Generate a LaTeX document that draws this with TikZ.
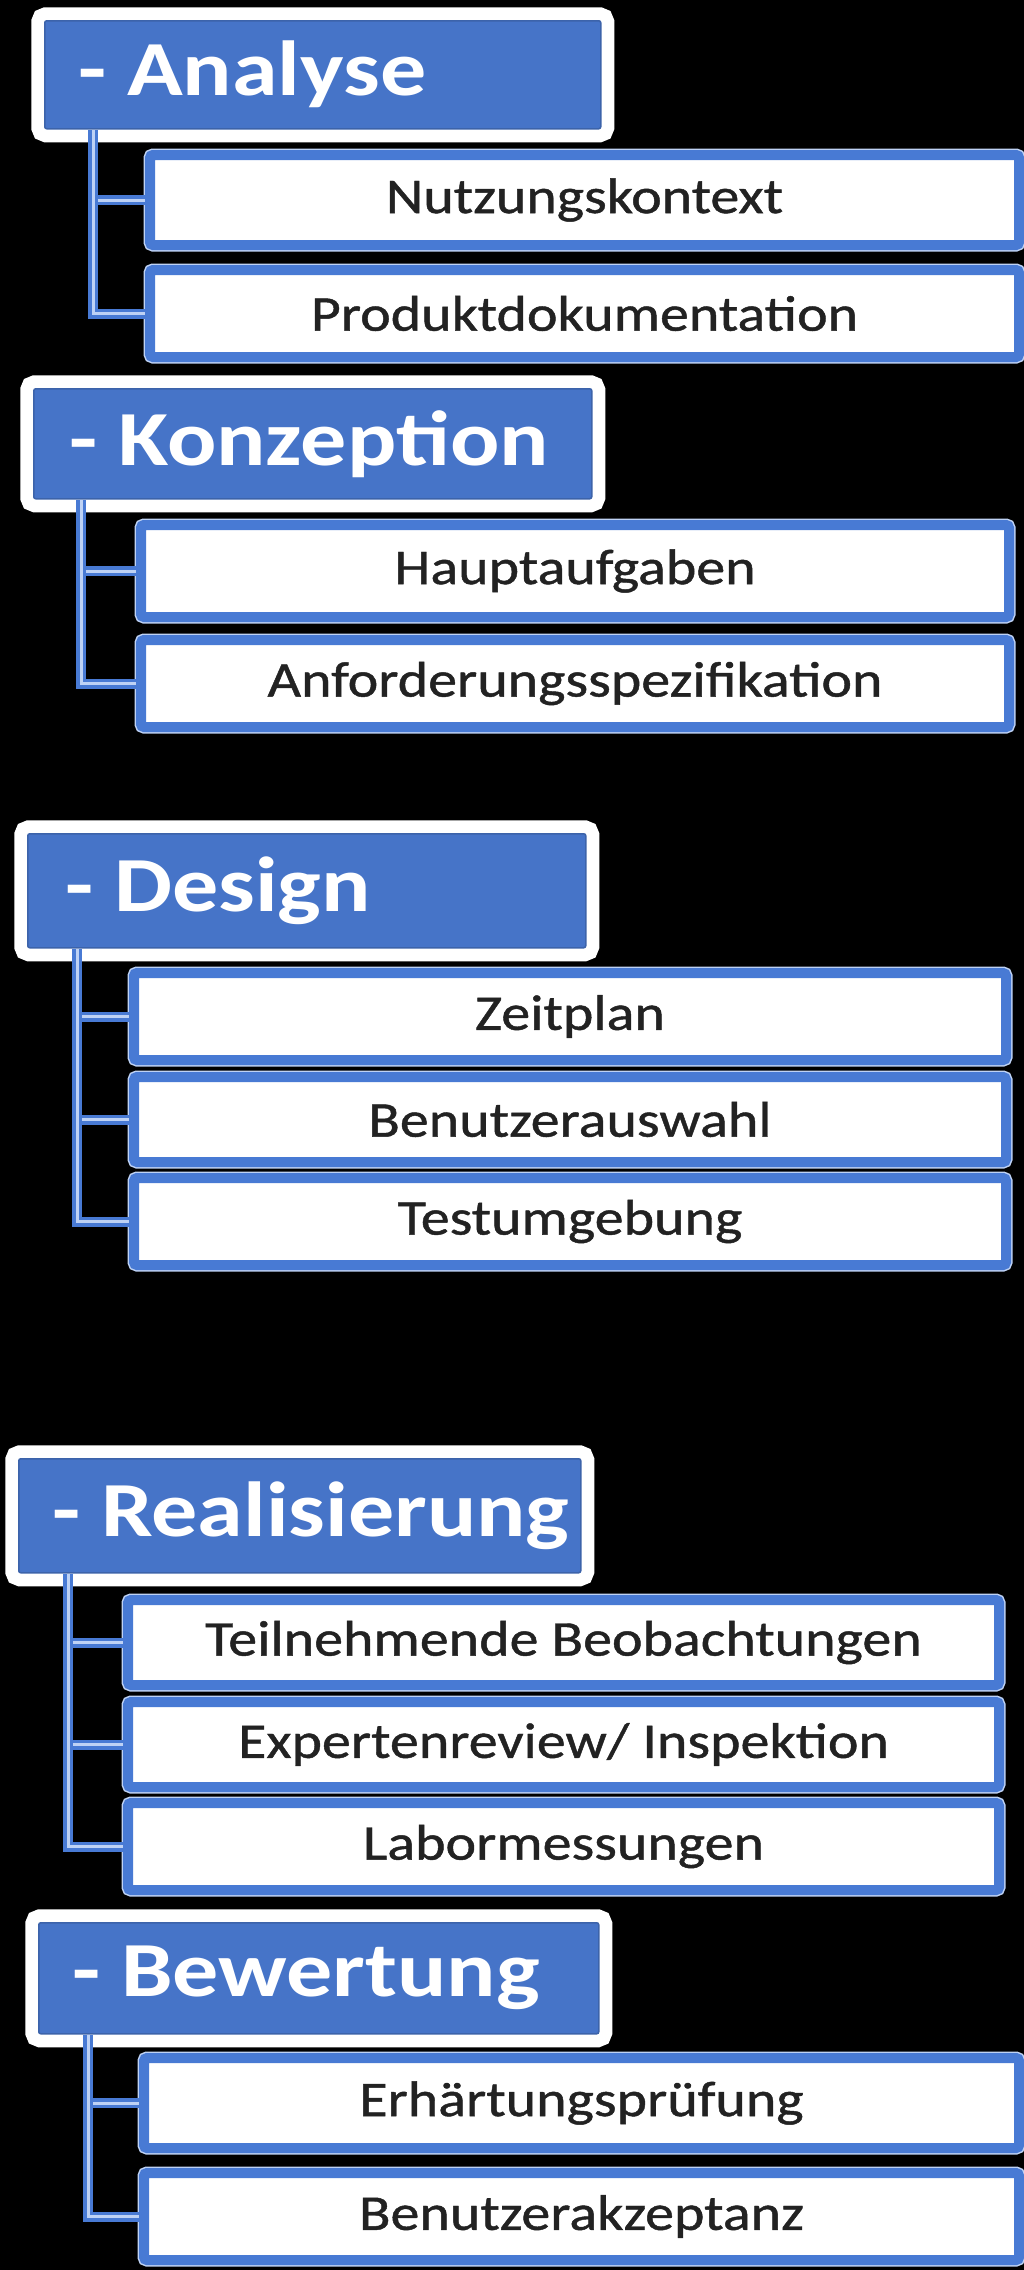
\documentclass[tikz,border=0pt]{standalone}
\usepackage{fontspec}
\setmainfont[FakeStretch=1.18]{Carlito}
\newfontfamily\subfont[FakeStretch=1.16,FakeBold=0.9]{Carlito}
\definecolor{hblue}{RGB}{70,116,200}
\definecolor{bblue}{RGB}{72,122,212}
\definecolor{lblue}{RGB}{190,210,245}
\definecolor{txt}{RGB}{34,34,34}
\tikzset{
  head/.style={fill=hblue, draw=hblue!85!black, line width=1.5pt, rounded corners=2pt,
    preaction={draw=white, line width=27pt, rounded corners=7pt},
    inner sep=0pt, anchor=north west},
  headtxt/.style={inner sep=0pt, anchor=west, text=white,
    font=\fontsize{78}{80}\selectfont\bfseries},
  sub/.style={fill=white, draw=bblue, line width=10pt, rounded corners=3pt,
    preaction={draw=lblue, line width=13pt, rounded corners=4pt},
    inner sep=0pt, text=txt, font=\fontsize{50}{52}\subfont, anchor=north west},
  conn/.style={draw=bblue, line width=3.5pt, double=lblue, double distance=3pt}
}
\begin{document}
\begin{tikzpicture}[x=1pt,y=-1pt]
\useasboundingbox[fill=black] (0,0) rectangle (1024,2270);
% Analyse
\node[head, minimum width=556pt, minimum height=108pt] (hA) at (44,20) {};
\node[headtxt] (tA) at ([xshift=34pt]hA.west) {- Analyse};
\node[sub, minimum width=869pt, minimum height=90pt] (a1) at (145,150) {Nutzungskontext};
\node[sub, minimum width=869pt, minimum height=87pt] (a2) at (145,265) {Produktdokumentation};
\coordinate (aT) at (93,130);
\draw[conn] (aT) |- (a1.west);
\draw[conn] (aT) |- (a2.west);
% Konzeption
\node[head, minimum width=558pt, minimum height=110pt] (hK) at (33,388) {};
\node[headtxt] (tK) at ([xshift=36pt]hK.west) {- Konzeption};
\node[sub, minimum width=868pt, minimum height=92pt] (k1) at (136,520) {Hauptaufgaben};
\node[sub, minimum width=868pt, minimum height=87pt] (k2) at (136,635) {Anforderungsspezifikation};
\coordinate (kT) at (81,500);
\draw[conn] (kT) |- (k1.west);
\draw[conn] (kT) |- (k2.west);
% Design
\node[head, minimum width=558pt, minimum height=114pt] (hD) at (27,833) {};
\node[headtxt] (tD) at ([xshift=38pt]hD.west) {- Design};
\node[sub, minimum width=872pt, minimum height=87pt] (d1) at (129,968) {Zeitplan};
\node[sub, minimum width=872pt, minimum height=85pt] (d2) at (129,1072) {Benutzerauswahl};
\node[sub, minimum width=872pt, minimum height=87pt] (d3) at (129,1173) {Testumgebung};
\coordinate (dT) at (77,949);
\draw[conn] (dT) |- (d1.west);
\draw[conn] (dT) |- (d2.west);
\draw[conn] (dT) |- (d3.west);
% Realisierung
\node[head, minimum width=562pt, minimum height=114pt] (hR) at (18,1458) {};
\node[headtxt] (tR) at ([xshift=34pt]hR.west) {- Realisierung};
\node[sub, minimum width=871pt, minimum height=85pt] (r1) at (123,1595) {Teilnehmende Beobachtungen};
\node[sub, minimum width=871pt, minimum height=85pt] (r2) at (123,1697) {Expertenreview/ Inspektion};
\node[sub, minimum width=871pt, minimum height=87pt] (r3) at (123,1798) {Labormessungen};
\coordinate (rT) at (68,1574);
\draw[conn] (rT) |- (r1.west);
\draw[conn] (rT) |- (r2.west);
\draw[conn] (rT) |- (r3.west);
% Bewertung
\node[head, minimum width=560pt, minimum height=111pt] (hB) at (38,1922) {};
\node[headtxt] (tB) at ([xshift=34pt]hB.west) {- Bewertung};
\node[sub, minimum width=875pt, minimum height=90pt] (b1) at (139,2053) {Erhärtungsprüfung};
\node[sub, minimum width=875pt, minimum height=87pt] (b2) at (139,2168) {Benutzerakzeptanz};
\coordinate (bT) at (88,2035);
\draw[conn] (bT) |- (b1.west);
\draw[conn] (bT) |- (b2.west);
\end{tikzpicture}
\end{document}
